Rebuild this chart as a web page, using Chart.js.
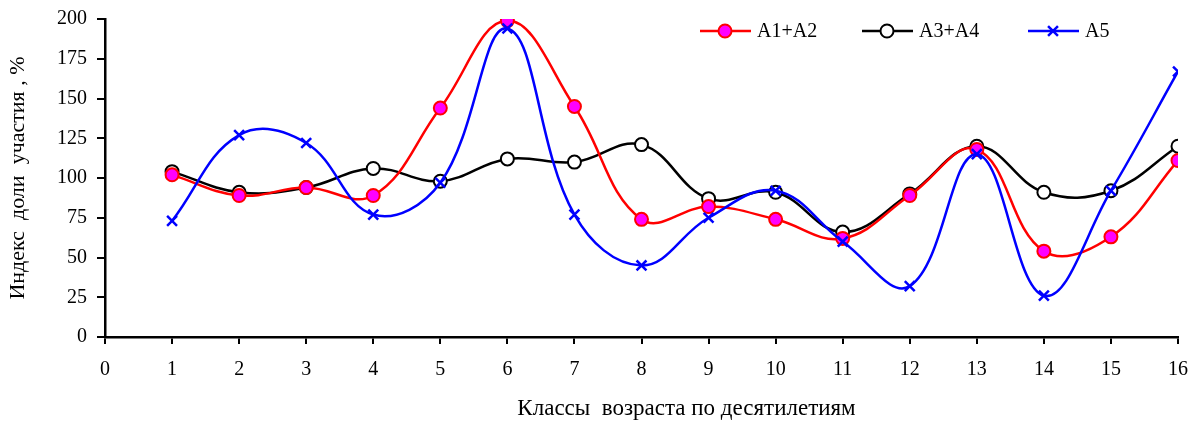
<!DOCTYPE html>
<html>
<head>
<meta charset="utf-8">
<script src="https://cdn.jsdelivr.net/npm/chart.js@4.4.1/dist/chart.umd.min.js"></script>
<style>
  html, body { margin: 0; padding: 0; background: #fff; }
  #wrap { width: 1193px; height: 423px; }
</style>
</head>
<body>
<div id="wrap"><canvas id="myChart" width="1193" height="423"></canvas></div>
<script>
// x = age classes (decades)
const xs = [1, 2, 3, 4, 5, 6, 7, 8, 9, 10, 11, 12, 13, 14, 15, 16];
const a12 = [102, 89, 94, 89, 144, 199, 145, 74, 82, 74, 62, 89, 118, 54, 63, 111];
const a34 = [104, 91, 94, 106, 98, 112, 110, 121, 87, 91, 66, 90, 120, 91, 92, 120];
const a5 = [73, 127, 122, 77, 97, 194, 77, 45, 75, 92, 60, 32, 115, 26, 92, 167];
const names = ['A1+A2', 'A3+A4', 'A5'];
const yTitle = 'Индекс  доли  участия , %';
const xTitle = 'Классы  возраста по десятилетиям';

const FONT = 'Liberation Serif, Times New Roman, serif';

function pts(arr) {
    var out = [];
    for (var i = 0; i < xs.length; i++) {
        out.push({ x: xs[i], y: arr[i] });
    }
    return out;
}

// legend: line sample + marker + text, drawn at the top right
const legendPlugin = {
    id: 'lineLegend',
    afterDraw: (chart) => {
        const ctx = chart.ctx;
        const starts = [700, 862, 1028];
        const y = 31;
        ctx.save();
        chart.data.datasets.forEach((ds, i) => {
            const x0 = starts[i];
            ctx.strokeStyle = ds.borderColor;
            ctx.lineWidth = ds.borderWidth;
            ctx.beginPath();
            ctx.moveTo(x0, y);
            ctx.lineTo(x0 + 51, y);
            ctx.stroke();
            ctx.fillStyle = ds.pointBackgroundColor;
            ctx.strokeStyle = ds.pointBorderColor;
            ctx.lineWidth = ds.pointBorderWidth;
            Chart.helpers.drawPoint(ctx, {
                pointStyle: ds.pointStyle,
                radius: ds.pointRadius,
                rotation: 0,
                borderWidth: ds.pointBorderWidth
            }, x0 + 25, y);
            ctx.fillStyle = '#000';
            ctx.font = '20px ' + FONT;
            ctx.textAlign = 'left';
            ctx.textBaseline = 'middle';
            ctx.fillText(ds.label, x0 + 57, y + 1);
        });
        ctx.restore();
    }
};

// x axis title, sits a bit right of the plot centre like the original
const xTitlePlugin = {
    id: 'xTitle',
    afterDraw: (chart) => {
        const ctx = chart.ctx;
        const a = chart.chartArea;
        ctx.save();
        ctx.fillStyle = '#000';
        ctx.font = '23px ' + FONT;
        ctx.textAlign = 'center';
        ctx.textBaseline = 'middle';
        ctx.fillText(xTitle, (a.left + a.right) / 2 + 45, 409);
        ctx.restore();
    }
};

const ctx = document.getElementById('myChart').getContext('2d');
const data = {
    datasets: [{
        label: names[0],
        data: pts(a12),
        borderColor: '#FF0000',
        borderWidth: 2.5,
        pointStyle: 'circle',
        pointRadius: 6.5,
        pointBackgroundColor: '#FF00FF',
        pointBorderColor: '#FF0000',
        pointBorderWidth: 2,
        order: 2
    }, {
        label: names[1],
        data: pts(a34),
        borderColor: '#000000',
        borderWidth: 2.5,
        pointStyle: 'circle',
        pointRadius: 6.5,
        pointBackgroundColor: '#FFFFFF',
        pointBorderColor: '#000000',
        pointBorderWidth: 2,
        order: 3
    }, {
        label: names[2],
        data: pts(a5),
        borderColor: '#0000FF',
        borderWidth: 2.5,
        pointStyle: 'crossRot',
        pointRadius: 7,
        pointBackgroundColor: '#0000FF',
        pointBorderColor: '#0000FF',
        pointBorderWidth: 2.5,
        order: 1
    }]
};

const config = {
    type: 'line',
    data: data,
    options: {
        responsive: false,
        animation: false,
        layout: { padding: { top: 19, right: 15, left: 0, bottom: 0 } },
        elements: { line: { tension: 0.4, fill: false } },
        plugins: {
            legend: { display: false },
            tooltip: { enabled: false }
        },
        scales: {
            x: {
                type: 'linear',
                position: 'bottom',
                min: 0,
                max: 16,
                afterFit: (s) => {
                    s.height = 86;
                    s.paddingRight = 0;
                    s.paddingLeft = 0;
                },
                ticks: {
                    stepSize: 1,
                    color: '#000',
                    padding: 14,
                    maxRotation: 0,
                    font: { family: FONT, size: 20 }
                },
                grid: {
                    display: true,
                    drawOnChartArea: false,
                    drawTicks: true,
                    tickLength: 7,
                    color: '#000',
                    lineWidth: 2
                },
                border: { display: true, color: '#000', width: 2.5 }
            },
            y: {
                min: 0,
                max: 200,
                afterFit: (s) => {
                    s.width = 105;
                    s.paddingTop = 0;
                    s.paddingBottom = 0;
                },
                ticks: {
                    stepSize: 25,
                    color: '#000',
                    padding: 10,
                    font: { family: FONT, size: 20 }
                },
                grid: {
                    display: true,
                    drawOnChartArea: false,
                    drawTicks: true,
                    tickLength: 8,
                    color: '#000',
                    lineWidth: 2
                },
                border: { display: true, color: '#000', width: 2.5 },
                title: {
                    display: true,
                    text: yTitle,
                    color: '#000',
                    padding: { top: 5, bottom: 0 },
                    font: { family: FONT, size: 22 }
                }
            }
        }
    },
    plugins: [legendPlugin, xTitlePlugin]
};

const myChart = new Chart(ctx, config);
</script>
</body>
</html>
